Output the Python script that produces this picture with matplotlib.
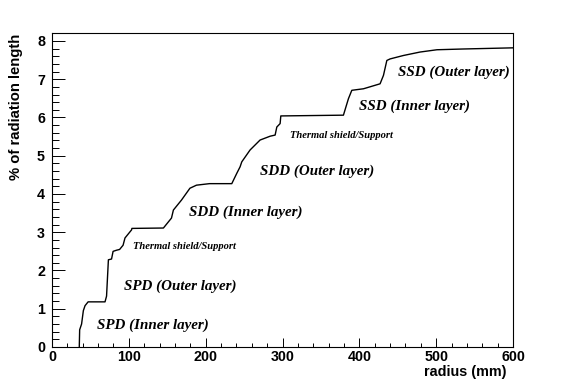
import matplotlib
matplotlib.use("Agg")
import matplotlib.pyplot as plt
from matplotlib.ticker import MultipleLocator

# cumulative material budget vs radius
radius = [35.5, 36, 38.5, 40.8, 43, 47, 69, 71, 73.4, 77.5, 79.5, 84, 88, 92.5, 95,
          103.5, 104, 145, 155.5, 158, 168.5, 179.5, 188, 205, 234, 240.5, 244.8,
          247, 257.8, 270.8, 283.9, 290.4, 292.6, 296.9, 297.8, 379.3, 385.8,
          390.2, 405.4, 427, 431.4, 435.8, 440, 457.4, 479, 501, 535.6, 600]
rad_len = [0, 0.45, 0.6, 0.95, 1.08, 1.18, 1.18, 1.33, 2.28, 2.3, 2.5, 2.53, 2.55,
           2.66, 2.85, 3.06, 3.1, 3.11, 3.37, 3.58, 3.84, 4.15, 4.23, 4.27, 4.27,
           4.54, 4.71, 4.84, 5.15, 5.41, 5.51, 5.54, 5.75, 5.84, 6.04, 6.06, 6.49,
           6.71, 6.75, 6.88, 7.10, 7.49, 7.53, 7.62, 7.71, 7.77, 7.79, 7.82]

labels = ["SPD (Inner layer)", "SPD (Outer layer)", "Thermal shield/Support",
          "SDD (Inner layer)", "SDD (Outer layer)", "Thermal shield/Support",
          "SSD (Inner layer)", "SSD (Outer layer)"]
label_x = [58.6, 93.5, 105.5, 178.4, 270.8, 309.9, 399.7, 450.5]
label_y = [0.57, 1.60, 2.62, 3.52, 4.60, 5.52, 6.30, 7.18]
label_small = [False, False, True, False, False, True, False, False]

fig = plt.figure(figsize=(5.7, 3.89), dpi=100)
ax = fig.add_axes([52/570, 1-347/389, 461/570, (347-33.3)/389])

ax.plot(radius, rad_len, color="black", lw=1.0)

for t, x, y, small in zip(labels, label_x, label_y, label_small):
    ax.text(x, y, t, ha="left", va="center", family="Liberation Serif",
            weight="bold", style="italic", fontsize=7.6 if small else 10.8)

ax.set_xlim(0, 600)
ax.set_ylim(0, 8.2)
ax.xaxis.set_major_locator(MultipleLocator(100))
ax.xaxis.set_minor_locator(MultipleLocator(20))
ax.yaxis.set_major_locator(MultipleLocator(1))
ax.yaxis.set_minor_locator(MultipleLocator(0.2))

ax.tick_params(axis="x", which="major", direction="in", length=6.4, width=0.7, pad=2)
ax.tick_params(axis="x", which="minor", direction="in", length=3.2, width=0.7)
ax.tick_params(axis="y", which="major", direction="in", length=9.4, width=0.7, pad=5)
ax.tick_params(axis="y", which="minor", direction="in", length=4.7, width=0.7)
for lab in ax.get_xticklabels() + ax.get_yticklabels():
    lab.set_family("Liberation Sans")
    lab.set_weight("bold")
    lab.set_fontsize(10.3)

ax.set_xlabel("radius (mm)", loc="right", family="Liberation Sans",
              weight="bold", fontsize=10.4, va="center")
ax.xaxis.set_label_coords(0.985, -0.08)
ax.set_ylabel("% of radiation length", loc="top", family="Liberation Sans",
              weight="bold", fontsize=10.7, va="center")
ax.yaxis.set_label_coords(-0.078, 1.0)

fig.savefig("out.png", dpi=100)
